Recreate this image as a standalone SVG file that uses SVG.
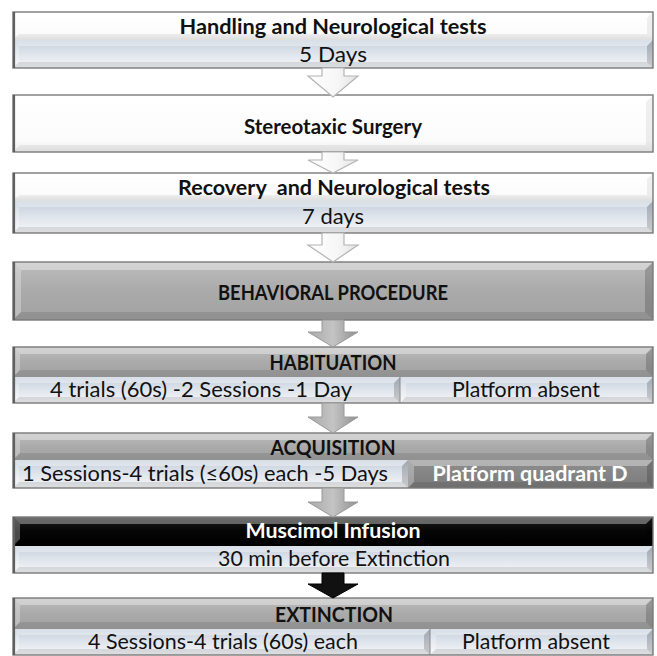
<svg xmlns="http://www.w3.org/2000/svg" width="657" height="656" viewBox="0 0 657 656">
<defs>
<linearGradient id="gStrip" x1="0" y1="0" x2="0" y2="1"><stop offset="0" stop-color="#c4cedb"/><stop offset="0.45" stop-color="#dde3eb"/><stop offset="1" stop-color="#f6f7f9"/></linearGradient>
<linearGradient id="gGray" x1="0" y1="0" x2="0" y2="1"><stop offset="0" stop-color="#bdbdbd"/><stop offset="0.5" stop-color="#aaaaaa"/><stop offset="1" stop-color="#a2a2a2"/></linearGradient>
<linearGradient id="gBlack" x1="0" y1="0" x2="0" y2="1"><stop offset="0" stop-color="#1e1e1e"/><stop offset="0.5" stop-color="#050505"/><stop offset="1" stop-color="#000"/></linearGradient>
<linearGradient id="gDark" x1="0" y1="0" x2="0" y2="1"><stop offset="0" stop-color="#8e8e8e"/><stop offset="1" stop-color="#7b7b7b"/></linearGradient>
<linearGradient id="gWhite" x1="0" y1="0" x2="0" y2="1"><stop offset="0" stop-color="#ffffff"/><stop offset="0.8" stop-color="#fbfbfb"/><stop offset="1" stop-color="#ececec"/></linearGradient>
<linearGradient id="gArrGray" x1="0" y1="0" x2="1" y2="0"><stop offset="0" stop-color="#a8a8a8"/><stop offset="0.5" stop-color="#c4c4c4"/><stop offset="1" stop-color="#8f8f8f"/></linearGradient>
<linearGradient id="gArrWhite" x1="0" y1="0" x2="1" y2="0"><stop offset="0" stop-color="#ffffff"/><stop offset="0.6" stop-color="#f6f6f6"/><stop offset="1" stop-color="#e2e2e2"/></linearGradient>
</defs>
<style>
text{font-family:Lato,"Liberation Sans",sans-serif;font-size:21px;text-anchor:middle;fill:#111;white-space:pre}
.b{font-weight:bold}
.c{font-size:21px}
.w{fill:#fff}
.strip{fill:url(#gStrip)}
.gray{fill:url(#gGray)}
.black{fill:url(#gBlack)}
.dark{fill:url(#gDark)}
.white{fill:url(#gWhite)}
.bt{fill:#fff;opacity:.35}
.bl{fill:#fff;opacity:.28}
.bb{fill:#000;opacity:.10}
.br{fill:#000;opacity:.18}
.wb{fill:#000;opacity:.06}
.frame{fill:none;stroke:#7a7a7a;stroke-width:1.4}
.edge{stroke:#5f5f5f;stroke-width:2.2}
.div{stroke:#8a8a8a;stroke-width:1}
.aw{fill:url(#gArrWhite);stroke:#b4b4b4;stroke-width:1.2}
.ag{fill:url(#gArrGray);stroke:#9a9a9a;stroke-width:1}
.ab{fill:#111;stroke:#000;stroke-width:1}
</style>
<rect width="657" height="656" fill="#fff"/>

<g id="n1">
<rect class="white" x="13" y="12" width="640" height="28"/>
<polygon class="wb" points="13,40 19,34 647,34 653,40"/>
<polygon class="wb" points="653,12 653,40 647,34 647,18"/>
<rect class="strip" x="13" y="40" width="640" height="28"/>
<polygon class="bt" points="13,40 653,40 647,46 19,46"/>
<polygon class="bl" points="13,40 19,46 19,62 13,68"/>
<polygon class="bb" points="13,68 19,62 647,62 653,68"/>
<polygon class="br" points="653,40 653,68 647,62 647,46"/>
<rect class="frame" x="13" y="12" width="640" height="56"/>
<line class="edge" x1="14" y1="12" x2="14" y2="68"/>
<text class="b" x="333" y="34" textLength="307" lengthAdjust="spacingAndGlyphs">Handling and Neurological tests</text>
<text x="333" y="62" textLength="68" lengthAdjust="spacingAndGlyphs">5 Days</text>
</g>

<g id="n2">
<rect class="white" x="13" y="95" width="640" height="57"/>
<polygon class="wb" points="13,152 20,145 646,145 653,152"/>
<polygon class="wb" points="653,95 653,152 646,145 646,102"/>
<rect class="frame" x="13" y="95" width="640" height="57"/>
<line class="edge" x1="14" y1="95" x2="14" y2="152"/>
<text class="b" x="333" y="134" textLength="178" lengthAdjust="spacingAndGlyphs">Stereotaxic Surgery</text>
</g>

<g id="n3">
<rect class="white" x="13" y="173" width="640" height="28"/>
<polygon class="wb" points="13,201 19,195 647,195 653,201"/>
<polygon class="wb" points="653,173 653,201 647,195 647,179"/>
<rect class="strip" x="13" y="201" width="640" height="32"/>
<polygon class="bt" points="13,201 653,201 647,207 19,207"/>
<polygon class="bl" points="13,201 19,207 19,227 13,233"/>
<polygon class="bb" points="13,233 19,227 647,227 653,233"/>
<polygon class="br" points="653,201 653,233 647,227 647,207"/>
<rect class="frame" x="13" y="173" width="640" height="60"/>
<line class="edge" x1="14" y1="173" x2="14" y2="233"/>
<text class="b" x="334" y="195" textLength="312" lengthAdjust="spacingAndGlyphs">Recovery  and Neurological tests</text>
<text x="333" y="224" textLength="62" lengthAdjust="spacingAndGlyphs">7 days</text>
</g>

<g id="n4">
<rect class="gray" x="13" y="262" width="640" height="58"/>
<polygon class="bt" points="13,262 653,262 645,270 21,270"/>
<polygon class="bl" points="13,262 21,270 21,312 13,320"/>
<polygon class="bb" points="13,320 21,312 645,312 653,320"/>
<polygon class="br" points="653,262 653,320 645,312 645,270"/>
<rect class="frame" x="13" y="262" width="640" height="58"/>
<line class="edge" x1="14" y1="262" x2="14" y2="320"/>
<text class="b c" x="333" y="300" textLength="230" lengthAdjust="spacingAndGlyphs">BEHAVIORAL PROCEDURE</text>
</g>

<g id="n5">
<rect class="gray" x="13" y="347" width="640" height="30"/>
<polygon class="bt" points="13,347 653,347 646,354 20,354"/>
<polygon class="bl" points="13,347 20,354 20,370 13,377"/>
<polygon class="bb" points="13,377 20,370 646,370 653,377"/>
<polygon class="br" points="653,347 653,377 646,370 646,354"/>
<rect class="strip" x="13" y="377" width="387" height="26"/>
<polygon class="bt" points="13,377 400,377 394,383 19,383"/>
<polygon class="bl" points="13,377 19,383 19,397 13,403"/>
<polygon class="bb" points="13,403 19,397 394,397 400,403"/>
<polygon class="br" points="400,377 400,403 394,397 394,383"/>
<rect class="strip" x="400" y="377" width="253" height="26"/>
<polygon class="bt" points="400,377 653,377 647,383 406,383"/>
<polygon class="bl" points="400,377 406,383 406,397 400,403"/>
<polygon class="bb" points="400,403 406,397 647,397 653,403"/>
<polygon class="br" points="653,377 653,403 647,397 647,383"/>
<line class="div" x1="400" y1="377" x2="400" y2="403"/>
<rect class="frame" x="13" y="347" width="640" height="56"/>
<line class="edge" x1="14" y1="347" x2="14" y2="403"/>
<text class="b c" x="333" y="370" textLength="127" lengthAdjust="spacingAndGlyphs">HABITUATION</text>
<text x="201" y="397" textLength="302" lengthAdjust="spacingAndGlyphs">4 trials (60s) -2 Sessions -1 Day</text>
<text x="526" y="397" textLength="148" lengthAdjust="spacingAndGlyphs">Platform absent</text>
</g>

<g id="n6">
<rect class="gray" x="13" y="433" width="640" height="27"/>
<polygon class="bt" points="13,433 653,433 646,440 20,440"/>
<polygon class="bl" points="13,433 20,440 20,453 13,460"/>
<polygon class="bb" points="13,460 20,453 646,453 653,460"/>
<polygon class="br" points="653,433 653,460 646,453 646,440"/>
<rect class="strip" x="13" y="460" width="395" height="28"/>
<polygon class="bt" points="13,460 408,460 402,466 19,466"/>
<polygon class="bl" points="13,460 19,466 19,482 13,488"/>
<polygon class="bb" points="13,488 19,482 402,482 408,488"/>
<polygon class="br" points="408,460 408,488 402,482 402,466"/>
<rect class="dark" x="408" y="460" width="245" height="28"/>
<polygon class="bt" points="408,460 653,460 647,466 414,466"/>
<polygon class="bl" points="408,460 414,466 414,482 408,488"/>
<polygon class="bb" points="408,488 414,482 647,482 653,488"/>
<polygon class="br" points="653,460 653,488 647,482 647,466"/>
<rect class="frame" x="13" y="433" width="640" height="55"/>
<line class="edge" x1="14" y1="433" x2="14" y2="488"/>
<text class="b c" x="333" y="455" textLength="125" lengthAdjust="spacingAndGlyphs">ACQUISITION</text>
<text x="205" y="481" textLength="366" lengthAdjust="spacingAndGlyphs">1 Sessions-4 trials (≤60s) each -5 Days</text>
<text class="b w" x="530" y="481" textLength="195" lengthAdjust="spacingAndGlyphs">Platform quadrant D</text>
</g>

<g id="n7">
<rect class="black" x="13" y="517" width="640" height="29"/>
<polygon class="bt" points="13,517 653,517 646,524 20,524" opacity=".15"/>
<polygon class="bl" points="13,517 20,524 20,539 13,546"/>
<polygon class="bb" points="13,546 20,539 646,539 653,546"/>
<polygon class="br" points="653,517 653,546 646,539 646,524"/>
<rect class="strip" x="13" y="546" width="640" height="27"/>
<polygon class="bt" points="13,546 653,546 647,552 19,552"/>
<polygon class="bl" points="13,546 19,552 19,567 13,573"/>
<polygon class="bb" points="13,573 19,567 647,567 653,573"/>
<polygon class="br" points="653,546 653,573 647,567 647,552"/>
<rect class="frame" x="13" y="517" width="640" height="56"/>
<line class="edge" x1="14" y1="517" x2="14" y2="573"/>
<text class="b w" x="333" y="538" textLength="175" lengthAdjust="spacingAndGlyphs">Muscimol Infusion</text>
<text x="334" y="566" textLength="232" lengthAdjust="spacingAndGlyphs">30 min before Extinction</text>
</g>

<g id="n8">
<rect class="gray" x="13" y="598" width="640" height="31"/>
<polygon class="bt" points="13,598 653,598 646,605 20,605"/>
<polygon class="bl" points="13,598 20,605 20,622 13,629"/>
<polygon class="bb" points="13,629 20,622 646,622 653,629"/>
<polygon class="br" points="653,598 653,629 646,622 646,605"/>
<rect class="strip" x="13" y="629" width="417" height="26"/>
<polygon class="bt" points="13,629 430,629 424,635 19,635"/>
<polygon class="bl" points="13,629 19,635 19,649 13,655"/>
<polygon class="bb" points="13,655 19,649 424,649 430,655"/>
<polygon class="br" points="430,629 430,655 424,649 424,635"/>
<rect class="strip" x="430" y="629" width="223" height="26"/>
<polygon class="bt" points="430,629 653,629 647,635 436,635"/>
<polygon class="bl" points="430,629 436,635 436,649 430,655"/>
<polygon class="bb" points="430,655 436,649 647,649 653,655"/>
<polygon class="br" points="653,629 653,655 647,649 647,635"/>
<line class="div" x1="430" y1="629" x2="430" y2="655"/>
<rect class="frame" x="13" y="598" width="640" height="57"/>
<line class="edge" x1="14" y1="598" x2="14" y2="655"/>
<text class="b c" x="334" y="622" textLength="118" lengthAdjust="spacingAndGlyphs">EXTINCTION</text>
<text x="223" y="649" textLength="270" lengthAdjust="spacingAndGlyphs">4 Sessions-4 trials (60s) each</text>
<text x="536" y="649" textLength="148" lengthAdjust="spacingAndGlyphs">Platform absent</text>
</g>

<g id="connectors">
<path class="aw" d="M322,68 H344 V76 H358 L333,97 L308,76 H322 Z"/>
<path class="aw" d="M322,152 H344 V160 H358 L333,173 L308,160 H322 Z"/>
<path class="aw" d="M322,233 H344 V245 H358 L333,262 L308,245 H322 Z"/>
<path class="ag" d="M322,320 H344 V332 H358 L333,347 L308,332 H322 Z"/>
<path class="ag" d="M322,403 H344 V417 H358 L333,433 L308,417 H322 Z"/>
<path class="ag" d="M322,488 H344 V502 H358 L333,517 L308,502 H322 Z"/>
<path class="ab" d="M322,573 H344 V584 H358 L333,598 L308,584 H322 Z"/>
</g>
</svg>
